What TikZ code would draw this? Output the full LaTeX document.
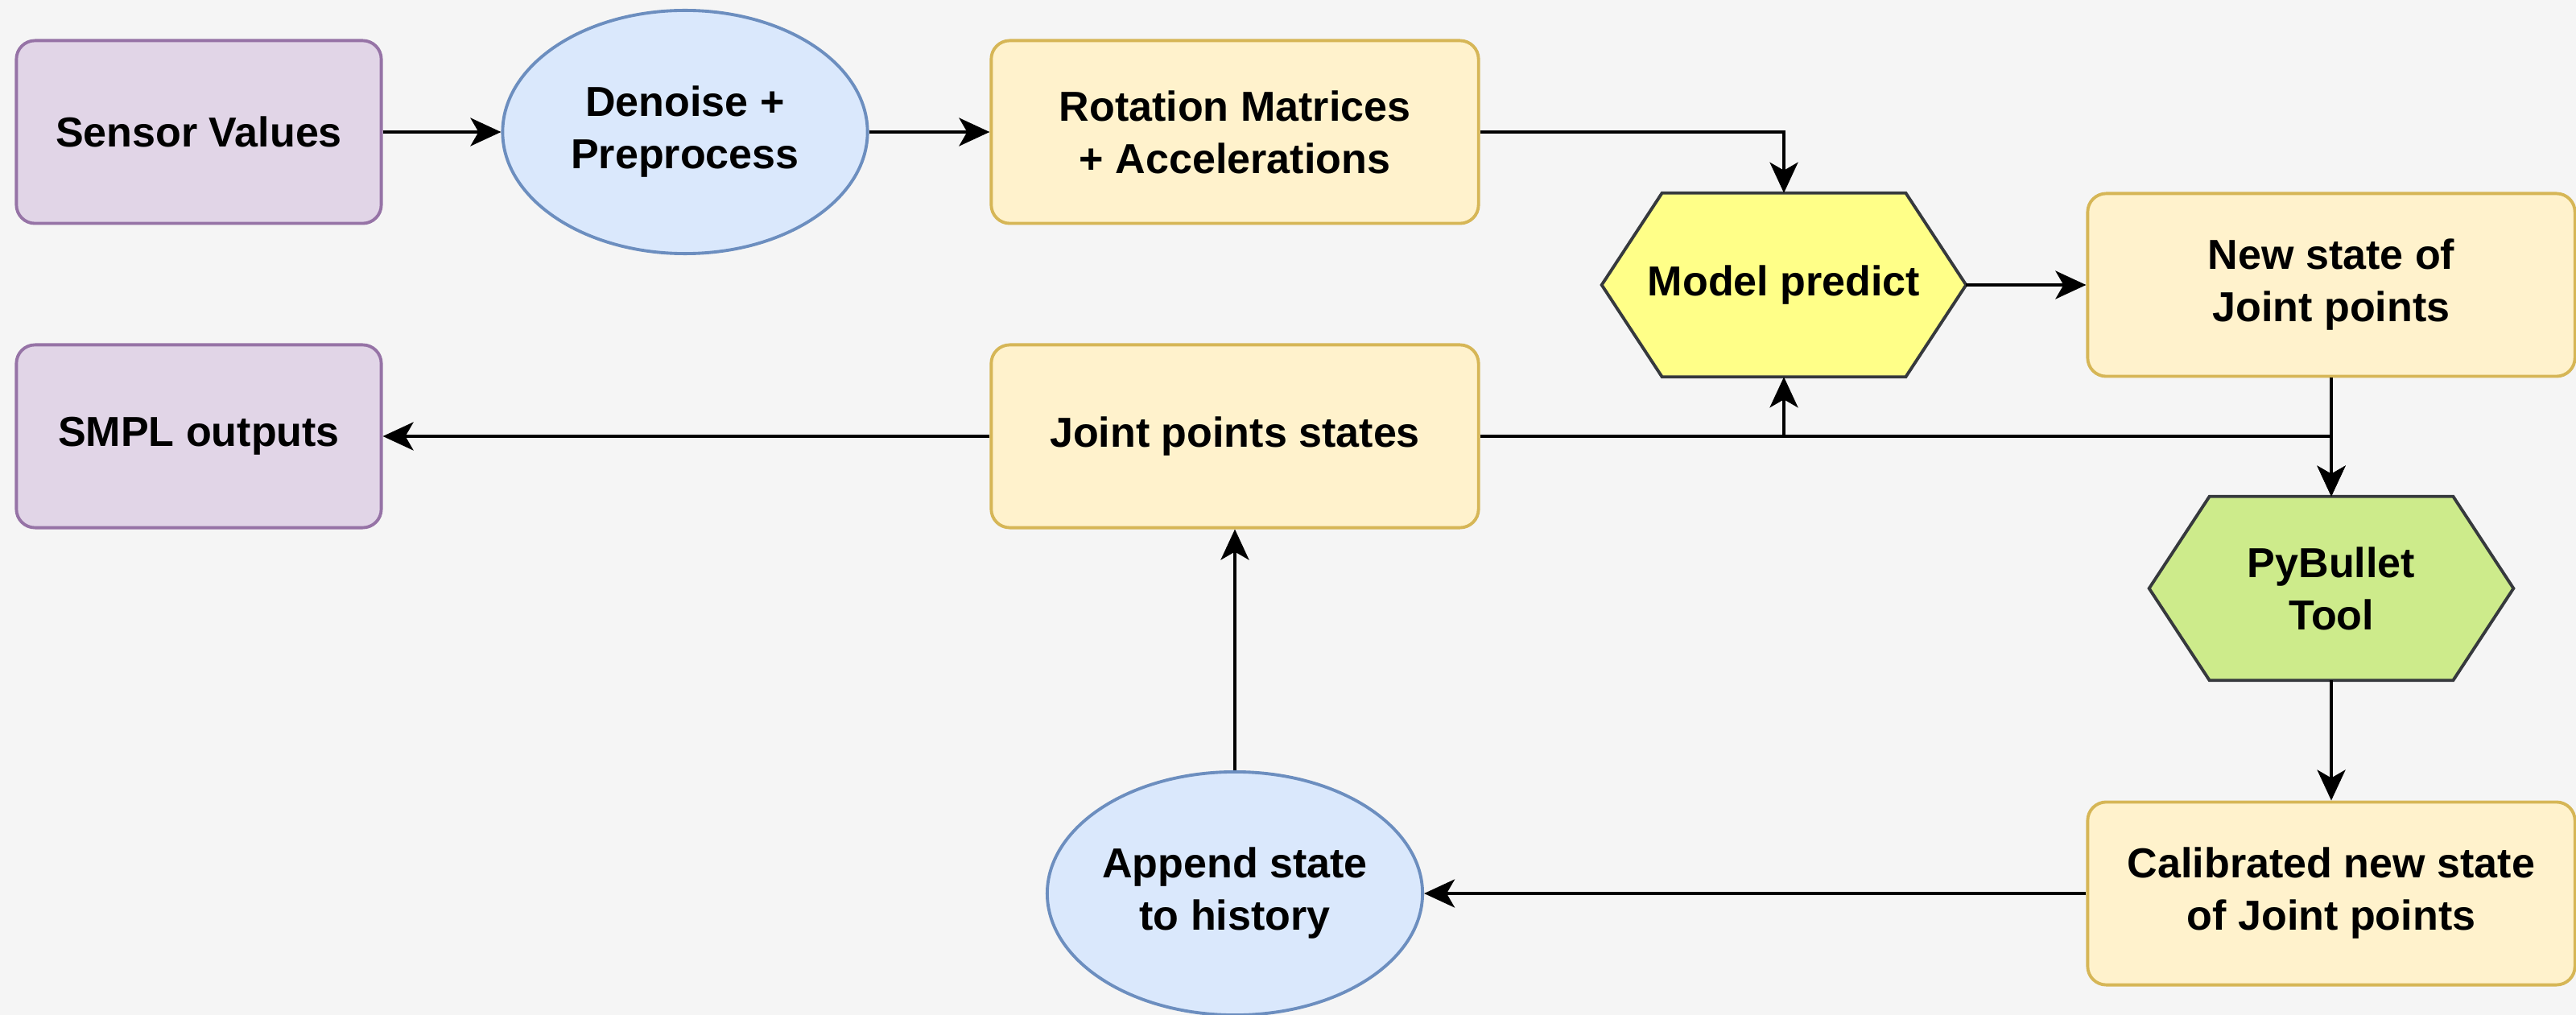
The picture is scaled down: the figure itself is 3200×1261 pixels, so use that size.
\documentclass[tikz,border=0pt]{standalone}
\usepackage{fontspec}
\setmainfont{Liberation Sans}
\usetikzlibrary{shapes.geometric,arrows.meta,backgrounds,calc}
\definecolor{bgc}{HTML}{F5F5F5}
\definecolor{purpleF}{HTML}{E1D5E7}
\definecolor{purpleS}{HTML}{9673A6}
\definecolor{blueF}{HTML}{DAE8FC}
\definecolor{blueS}{HTML}{6C8EBF}
\definecolor{yelF}{HTML}{FFF2CC}
\definecolor{yelS}{HTML}{D6B656}
\definecolor{modelF}{HTML}{FFFF88}
\definecolor{greenF}{HTML}{CDEB8B}
\definecolor{darkS}{HTML}{36393D}
\begin{document}
\begin{tikzpicture}[x=0.01cm,y=-0.01cm,
  every node/.style={font=\bfseries\fontsize{14.8}{18.5}\selectfont, align=center, text=black, inner sep=0pt},
  shapeline/.style={line width=1.1pt},
  purplebox/.style={shapeline, draw=purpleS, fill=purpleF, rounded corners=0.23cm, minimum width=4.53cm, minimum height=2.27cm},
  yelbox/.style={shapeline, draw=yelS, fill=yelF, rounded corners=0.23cm, minimum width=6.05cm, minimum height=2.27cm},
  blueell/.style={shapeline, ellipse, draw=blueS, fill=blueF, minimum width=4.53cm, minimum height=3.02cm},
  hexnode/.style={minimum width=4.51cm, minimum height=2.27cm},
  hexline/.style={shapeline, draw=darkS},
  conn/.style={line width=1.15pt, -{Stealth[length=0.38cm,width=0.35cm,inset=0.1cm]}}
]
\useasboundingbox (0,0) rectangle (3200,1261);
\begin{scope}[on background layer]
  \fill[bgc] (0,0) rectangle (3200,1261);
\end{scope}

% nodes
\node[purplebox] (sv) at (247,164) {Sensor Values};
\node[blueell] (dn) at (851,164) {Denoise +\\Preprocess};
\node[yelbox] (rm) at (1534,164) {Rotation Matrices\\+ Accelerations};
\node[hexnode] (mp) at (2216,354) {Model predict};
\node[yelbox] (ns) at (2896,354) {New state of\\Joint points};
\node[purplebox] (smpl) at (247,542) {SMPL outputs};
\node[yelbox] (js) at (1534,542) {Joint points states};
\node[hexnode] (pb) at (2896,731) {PyBullet\\Tool};
\node[blueell] (ap) at (1534,1110) {Append state\\to history};
\node[yelbox] (cal) at (2896,1110) {Calibrated new state\\of Joint points};

% hexagon outlines
\begin{scope}[on background layer]
  \filldraw[hexline, fill=modelF] ($(mp.north west)+(75,0)$) -- ($(mp.north east)+(-75,0)$) -- (mp.east) -- ($(mp.south east)+(-75,0)$) -- ($(mp.south west)+(75,0)$) -- (mp.west) -- cycle;
  \filldraw[hexline, fill=greenF] ($(pb.north west)+(75,0)$) -- ($(pb.north east)+(-75,0)$) -- (pb.east) -- ($(pb.south east)+(-75,0)$) -- ($(pb.south west)+(75,0)$) -- (pb.west) -- cycle;
\end{scope}

% connectors
\draw[conn] (sv.east) -- (dn.west);
\draw[conn] (dn.east) -- (rm.west);
\draw[conn] (rm.east) -| (mp.north);
\draw[conn] (mp.east) -- (ns.west);
\draw[conn] (ns.south) -- (pb.north);
\draw[conn] (js.east) -| (pb.north);
\draw[conn] (js.east) -| (mp.south);
\draw[conn] (pb.south) -- (cal.north);
\draw[conn] (cal.west) -- (ap.east);
\draw[conn] (ap.north) -- (js.south);
\draw[conn] (js.west) -- (smpl.east);
\end{tikzpicture}
\end{document}
